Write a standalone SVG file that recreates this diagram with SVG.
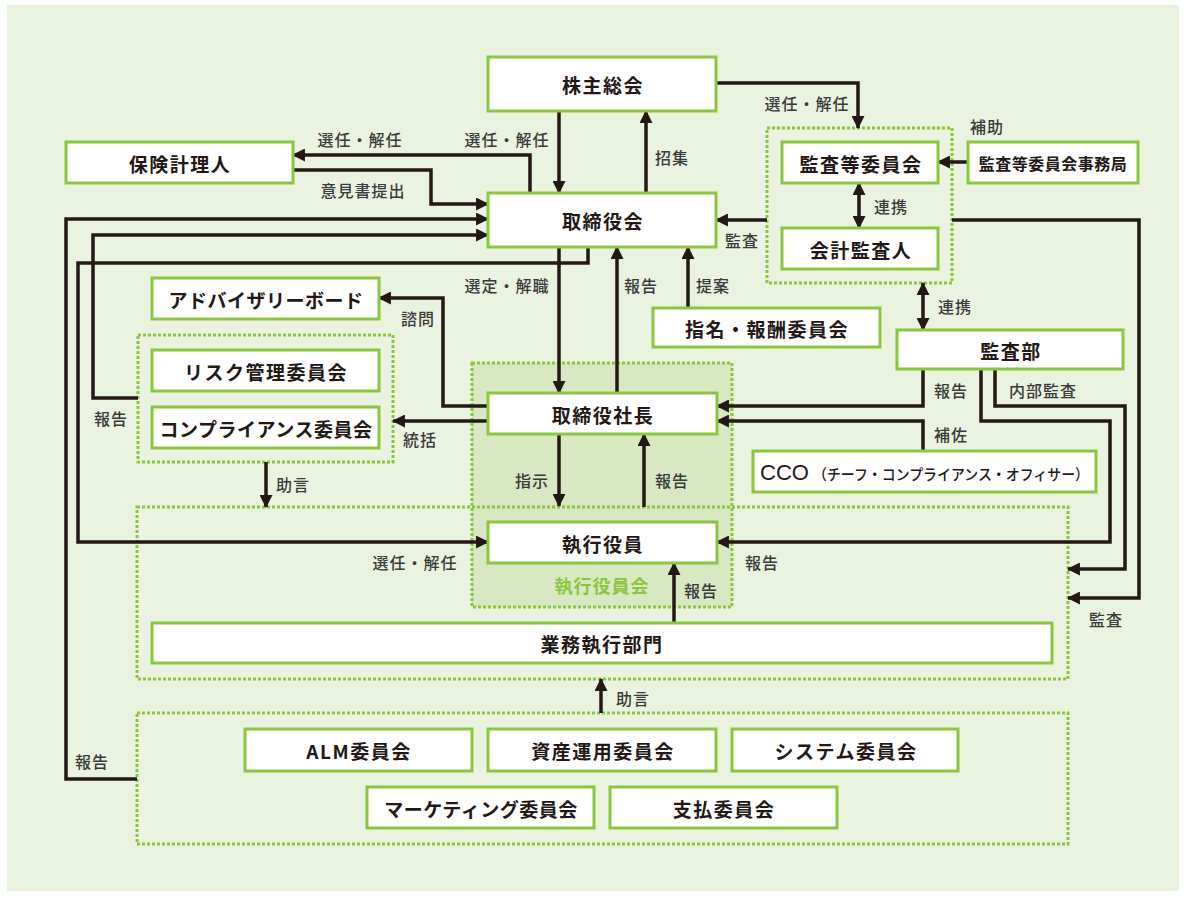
<svg xmlns="http://www.w3.org/2000/svg" width="1186" height="897" viewBox="0 0 1186 897">
<defs>
<style>
.bx{fill:#fff;stroke:#8cc63f;stroke-width:3}
.dg{fill:none;stroke:#8cc63f;stroke-width:3;stroke-dasharray:3 2}
.nt{font-family:"Noto Sans CJK JP","Noto Sans",sans-serif;font-weight:700;font-size:19px;fill:#231815;text-anchor:middle;dominant-baseline:central;letter-spacing:1.5px}
.lb{font-family:"Noto Sans CJK JP","Noto Sans",sans-serif;font-weight:500;font-size:16px;fill:#3a3a3a;text-anchor:middle;letter-spacing:1px}
.ln{fill:none;stroke:#231815;stroke-width:3.5}
</style>
<marker id="ah" viewBox="0 0 12 12" refX="11" refY="6" markerWidth="13" markerHeight="13" orient="auto-start-reverse" markerUnits="userSpaceOnUse"><path d="M0,0 L12,6 L0,12 z" fill="#231815"/></marker>
</defs>
<rect x="0" y="0" width="1186" height="897" fill="#fff"/>
<rect x="7" y="5" width="1172" height="886" fill="#eaf3df"/>

<g id="groups">
<rect id="grp-exec-council" x="472" y="363" width="260" height="244" fill="#d7e8c2" stroke="#8cc63f" stroke-width="3" stroke-dasharray="3 2"/>
<rect id="grp-exec" class="dg" x="137" y="507" width="931" height="172"/>
<rect id="grp-audit" class="dg" x="767" y="128" width="185" height="155"/>
<rect id="grp-risk" class="dg" x="138" y="335" width="255" height="127"/>
<rect id="grp-committees" class="dg" x="137" y="713" width="931" height="131"/>
<text x="602" y="585" font-family="'Noto Sans CJK JP',sans-serif" font-weight="700" font-size="18" fill="#8cc63f" text-anchor="middle" dominant-baseline="central" letter-spacing="1">執行役員会</text>
</g>

<g id="connectors">
<path class="ln" d="M559,111 V193" marker-end="url(#ah)"/>
<path class="ln" d="M646,193 V111" marker-end="url(#ah)"/>
<path class="ln" d="M716,83 H858 V128" marker-end="url(#ah)"/>
<path class="ln" d="M530,193 V155 H293" marker-end="url(#ah)"/>
<path class="ln" d="M293,170 H431 V204 H488" marker-end="url(#ah)"/>
<path class="ln" d="M767,220 H716" marker-end="url(#ah)"/>
<path class="ln" d="M968,162 H938" marker-end="url(#ah)"/>
<path class="ln" d="M859,183 V228" marker-start="url(#ah)" marker-end="url(#ah)"/>
<path class="ln" d="M923,283 V330" marker-start="url(#ah)" marker-end="url(#ah)"/>
<path class="ln" d="M952,220 H1139 V598 H1068" marker-end="url(#ah)"/>
<path class="ln" d="M559,247 V393" marker-end="url(#ah)"/>
<path class="ln" d="M617,393 V247" marker-end="url(#ah)"/>
<path class="ln" d="M688,307 V247" marker-end="url(#ah)"/>
<path class="ln" d="M588,247 V263 H78 V542 H488" marker-end="url(#ah)"/>
<path class="ln" d="M138,398 H93 V235 H488" marker-end="url(#ah)"/>
<path class="ln" d="M137,779 H66 V219 H488" marker-end="url(#ah)"/>
<path class="ln" d="M488,406 H443 V298 H379" marker-end="url(#ah)"/>
<path class="ln" d="M488,421 H393" marker-end="url(#ah)"/>
<path class="ln" d="M266,462 V507" marker-end="url(#ah)"/>
<path class="ln" d="M559,434 V506" marker-end="url(#ah)"/>
<path class="ln" d="M644,507 V434" marker-end="url(#ah)"/>
<path class="ln" d="M674,623 V563" marker-end="url(#ah)"/>
<path class="ln" d="M601,713 V679" marker-end="url(#ah)"/>
<path class="ln" d="M923,369 V406 H717" marker-end="url(#ah)"/>
<path class="ln" d="M923,451 V421 H717" marker-end="url(#ah)"/>
<path class="ln" d="M981,369 V421 H1110 V542 H717" marker-end="url(#ah)"/>
<path class="ln" d="M995,369 V406 H1125 V569 H1068" marker-end="url(#ah)"/>
</g>

<g id="labels">
<text class="lb" x="507" y="146">選任・解任</text>
<text class="lb" x="672" y="164">招集</text>
<text class="lb" x="360" y="146">選任・解任</text>
<text class="lb" x="363" y="197">意見書提出</text>
<text class="lb" x="807" y="110">選任・解任</text>
<text class="lb" x="987" y="133">補助</text>
<text class="lb" x="742" y="247">監査</text>
<text class="lb" x="891" y="213">連携</text>
<text class="lb" x="955" y="313">連携</text>
<text class="lb" x="507" y="292">選定・解職</text>
<text class="lb" x="641" y="292">報告</text>
<text class="lb" x="713" y="292">提案</text>
<text class="lb" x="418" y="325">諮問</text>
<text class="lb" x="111" y="425">報告</text>
<text class="lb" x="420" y="446">統括</text>
<text class="lb" x="293" y="491">助言</text>
<text class="lb" x="532" y="487">指示</text>
<text class="lb" x="672" y="487">報告</text>
<text class="lb" x="701" y="597">報告</text>
<text class="lb" x="415" y="569">選任・解任</text>
<text class="lb" x="762" y="569">報告</text>
<text class="lb" x="1106" y="626">監査</text>
<text class="lb" x="951" y="397">報告</text>
<text class="lb" x="1043" y="397">内部監査</text>
<text class="lb" x="951" y="441">補佐</text>
<text class="lb" x="633" y="705">助言</text>
<text class="lb" x="92" y="768">報告</text>
</g>

<g id="n-shareholders"><rect class="bx" x="488" y="57" width="228" height="54"/><text class="nt" x="603" y="84">株主総会</text></g>
<g id="n-board"><rect class="bx" x="488" y="193" width="228" height="54"/><text class="nt" x="603" y="220">取締役会</text></g>
<g id="n-actuary"><rect class="bx" x="66" y="142" width="227" height="41"/><text class="nt" x="180" y="163">保険計理人</text></g>
<g id="n-audit-committee"><rect class="bx" x="782" y="142" width="156" height="41"/><text class="nt" x="861" y="163">監査等委員会</text></g>
<g id="n-accounting-auditor"><rect class="bx" x="782" y="228" width="156" height="41"/><text class="nt" x="861" y="249">会計監査人</text></g>
<g id="n-audit-office"><rect class="bx" x="968" y="142" width="170" height="41"/><text class="nt" x="1053" y="163" style="font-size:16px;letter-spacing:0.5px">監査等委員会事務局</text></g>
<g id="n-audit-dept"><rect class="bx" x="897" y="330" width="226" height="39"/><text class="nt" x="1011" y="350">監査部</text></g>
<g id="n-nomination"><rect class="bx" x="653" y="308" width="227" height="39"/><text class="nt" x="767" y="328">指名・報酬委員会</text></g>
<g id="n-advisory"><rect class="bx" x="152" y="278" width="227" height="41"/><text class="nt" x="266" y="299" style="letter-spacing:0.5px">アドバイザリーボード</text></g>
<g id="n-risk"><rect class="bx" x="152" y="350" width="227" height="41"/><text class="nt" x="266" y="371">リスク管理委員会</text></g>
<g id="n-compliance"><rect class="bx" x="152" y="407" width="227" height="41"/><text class="nt" x="266" y="428" style="letter-spacing:0.5px">コンプライアンス委員会</text></g>
<g id="n-president"><rect class="bx" x="488" y="393" width="229" height="41"/><text class="nt" x="603" y="414">取締役社長</text></g>
<g id="n-officers"><rect class="bx" x="488" y="522" width="229" height="41"/><text class="nt" x="603" y="543">執行役員</text></g>
<g id="n-cco"><rect class="bx" x="753" y="451" width="343" height="41"/><text x="760" y="472" font-family="'Liberation Sans',sans-serif" font-size="22" fill="#231815" dominant-baseline="central">CCO</text><text x="813" y="473" font-family="'Noto Sans CJK JP',sans-serif" font-size="15" font-weight="500" fill="#231815" dominant-baseline="central" textLength="276" lengthAdjust="spacingAndGlyphs">（チーフ・コンプライアンス・オフィサー）</text></g>
<g id="n-business"><rect class="bx" x="152" y="623" width="900" height="40"/><text class="nt" x="602" y="643">業務執行部門</text></g>
<g id="n-alm"><rect class="bx" x="245" y="729" width="227" height="42"/><text class="nt" x="359" y="750">ALM委員会</text></g>
<g id="n-asset"><rect class="bx" x="488" y="729" width="228" height="42"/><text class="nt" x="603" y="750">資産運用委員会</text></g>
<g id="n-system"><rect class="bx" x="732" y="729" width="226" height="42"/><text class="nt" x="846" y="750">システム委員会</text></g>
<g id="n-marketing"><rect class="bx" x="367" y="787" width="227" height="41"/><text class="nt" x="481" y="808" style="letter-spacing:0.5px">マーケティング委員会</text></g>
<g id="n-payment"><rect class="bx" x="610" y="787" width="227" height="41"/><text class="nt" x="724" y="808">支払委員会</text></g>
</svg>
